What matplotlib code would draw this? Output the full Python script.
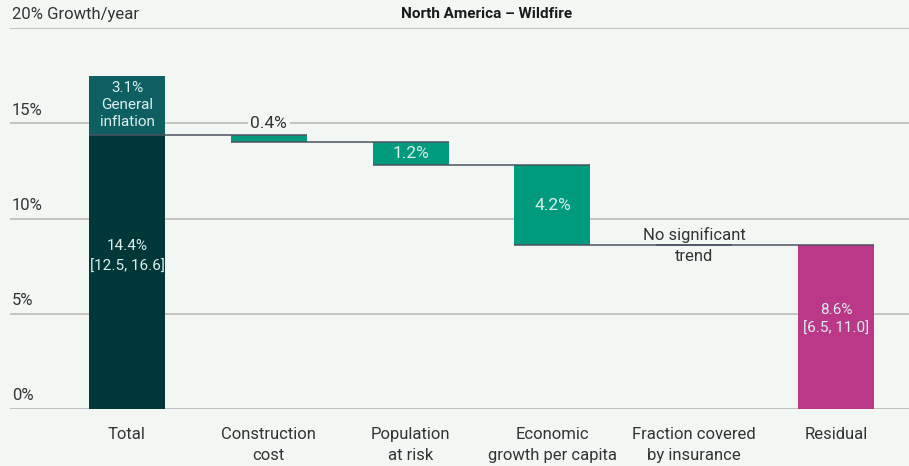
import matplotlib
matplotlib.use("Agg")
import matplotlib.pyplot as plt
import matplotlib.transforms as mtransforms

# data
categories = ["Total", "Construction\ncost", "Population\nat risk",
              "Economic\ngrowth per capita", "Fraction covered\nby insurance", "Residual"]
total_value = 14.4
total_range = "[12.5, 16.6]"
inflation_value = 3.1
steps = [0.4, 1.2, 4.2, None]          # None = no significant trend
residual_value = 8.6
residual_range = "[6.5, 11.0]"
yticks = [0, 5, 10, 15, 20]

BG = "#f3f7f4"
DARK = "#02373a"
INFL = "#0e5f62"
GREEN = "#009a7e"
MAGENTA = "#bb3888"
GRID = "#b8bab8"
CONN = "#4d5260"
TXT = "#333333"
LIGHT = "#dcefeb"

plt.rcParams['font.family'] = ['Roboto', 'DejaVu Sans']

fig = plt.figure(figsize=(9.09, 4.66), dpi=100, facecolor=BG)
ax = fig.add_axes([10 / 909, 1 - 409 / 466, 899 / 909, (409 - 28) / 466])
ax.set_facecolor(BG)
ax.set_xlim(-0.825, 5.515)
ax.set_ylim(0, 20)
for s in ax.spines.values():
    s.set_visible(False)
ax.set_xticks([])
ax.set_yticks([])

# gridlines and y labels above them
trans = mtransforms.blended_transform_factory(ax.transAxes, ax.transData)
for t in yticks:
    ax.axhline(t, color=GRID, lw=1.2, zorder=0)
    lab = f"{t}%" if t < 20 else f"{t}% Growth/year"
    ax.text(0.002, t + 0.3, lab, transform=trans, ha='left', va='bottom',
            fontsize=12, color=TXT)

w = 0.536
x = list(range(len(categories)))

# total + inflation
ax.bar(x[0], total_value, width=w, color=DARK, zorder=2)
ax.bar(x[0], inflation_value, bottom=total_value, width=w, color=INFL, zorder=2)
ax.text(x[0], total_value / 2 + 0.8, f"{total_value}%\n{total_range}", ha='center',
        va='center', fontsize=11, color=LIGHT, linespacing=1.6, zorder=4)
ax.text(x[0], total_value + inflation_value / 2, f"{inflation_value}%\nGeneral\ninflation",
        ha='center', va='center', fontsize=11, color=LIGHT, linespacing=1.3, zorder=4)

# drivers
levels = [total_value]
level = total_value
for i, v in enumerate(steps, start=1):
    if v is None:
        levels.append(level)
        ax.text(x[i], level, "No significant\ntrend", ha='center', va='center',
                fontsize=12, color=TXT, linespacing=1.5, zorder=4)
        continue
    ax.bar(x[i], v, bottom=level - v, width=w, color=GREEN, zorder=2)
    if v < 1:
        ax.text(x[i], level + 0.6, f"{v}%", ha='center', va='center', fontsize=12.5,
                color=TXT, zorder=4,
                bbox=dict(facecolor=BG, edgecolor='none', pad=2))
    else:
        ax.text(x[i], level - v / 2, f"{v}%", ha='center', va='center',
                fontsize=12.5, color=LIGHT, zorder=4)
    level -= v
    levels.append(level)

# residual
ax.bar(x[-1], residual_value, width=w, color=MAGENTA, zorder=2)
ax.text(x[-1], residual_value / 2 + 0.4, f"{residual_value}%\n{residual_range}",
        ha='center', va='center', fontsize=11, color=LIGHT, linespacing=1.45, zorder=4)

# connectors
for i, lv in enumerate(levels):
    ax.hlines(lv, x[i] - w / 2, x[i + 1] + w / 2, color=CONN, lw=1.1, zorder=3)

# category labels
for xi, c in zip(x, categories):
    ax.text(xi, -0.95, c, ha='center', va='top', fontsize=12, color=TXT,
            linespacing=1.5, clip_on=False)

fig.text(487 / 909, 1 - 14 / 466, "North America – Wildfire", ha='center',
         va='center', fontsize=11, fontweight='bold', color="#1a1a1a")

fig.savefig("out.png", dpi=100, facecolor=BG)
